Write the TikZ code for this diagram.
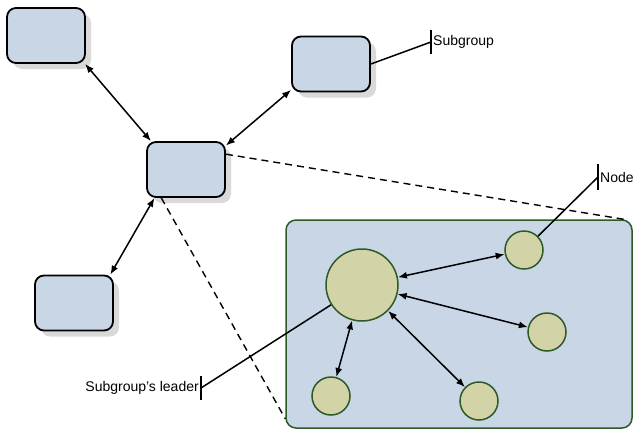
\documentclass[tikz,border=0pt]{standalone}
\usepackage{fontspec}
\setmainfont{Liberation Sans}
\usetikzlibrary{arrows.meta,shadows}
\definecolor{groupblue}{RGB}{200,214,229}
\definecolor{darkleaf}{RGB}{46,90,40}
\definecolor{khaki}{RGB}{211,211,168}
\begin{document}
\begin{tikzpicture}[x=1pt, y=-1pt,
    subgroup/.style ={rectangle, draw, line width=1.8pt, rounded corners=9pt, fill=groupblue, minimum width=78pt, minimum height=55pt, drop shadow={shadow xshift=6pt, shadow yshift=-6pt, fill=black!15, opacity=1}},
    member/.style ={circle, draw=darkleaf, line width=1.5pt, fill=khaki, inner sep=0pt, minimum size=38pt},
    link/.style ={line width=1.5pt, {Latex[length=9pt,width=7pt]}-{Latex[length=9pt,width=7pt]}},
    zoomline/.style ={line width=1.4pt, dash pattern=on 7pt off 5pt},
    callout/.style ={font=\fontsize{14}{16}\selectfont, inner sep=2pt}]
   \useasboundingbox (0,0) rectangle (633,429);
   \node[draw=darkleaf, line width=1.5pt, rounded corners=10pt, fill=groupblue, minimum width=346pt, minimum height=208pt] (P) at (459,324) {};
   \node[subgroup] (S1) at (46,35.5) {};
   \node[subgroup] (S0) at (186,169.5) {};
   \node[subgroup] (S2) at (331,64) {};
   \node[subgroup] (S3) at (74,303) {};
   \draw[link] (S1.-36) to (S0.141);
   \draw[link] (S2.213) to (S0.31);
   \draw[link] (S3.38) to (S0.222);
   \draw[zoomline] (S0.21) to ([xshift=-9pt]P.north east);
   \draw[zoomline] (S0.229) to ([yshift=10pt]P.south west);
   \node[member, minimum size=72pt] (L) at (362,285) {};
   \node[member] (N1) at (524,250) {};
   \node[member] (N2) at (547,332) {};
   \node[member] (N3) at (331,396) {};
   \node[member] (N4) at (479,401) {};
   \draw[link] (L) to (N1);
   \draw[link] (L) to (N2);
   \draw[link] (L) to (N3);
   \draw[link] (L) to (N4);
   \node[callout, anchor=west] (T1) at (431,42) {Subgroup};
   \node[callout, anchor=west] (T2) at (598,177) {Node};
   \node[callout, anchor=east] (T3) at (201,388) {Subgroup’s leader};
   \draw[line width=1.5pt] ([yshift=12pt]T1.west) to ([yshift=-12pt]T1.west);
   \draw[line width=1.5pt] ([yshift=13pt]T2.west) to ([yshift=-13pt]T2.west);
   \draw[line width=1.5pt] ([yshift=12pt]T3.east) to ([yshift=-12pt]T3.east);
   \draw[line width=1.5pt] (S2.east) to (T1.west);
   \draw[line width=1.5pt] (N1) to (T2.west);
   \draw[line width=1.5pt] (L) to (T3.east);
\end{tikzpicture}
\end{document}
